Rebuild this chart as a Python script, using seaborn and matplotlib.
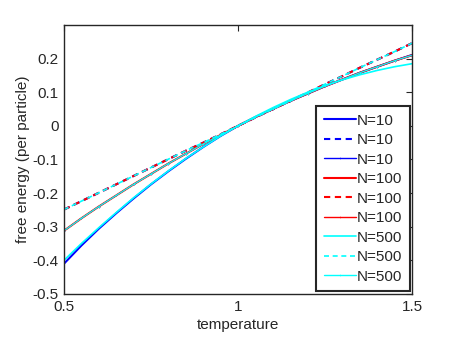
import numpy as np
import pandas as pd
import seaborn as sns
import matplotlib
matplotlib.use("Agg")
import matplotlib.pyplot as plt

# temperature grid
temperature = [0.50, 0.55, 0.60, 0.65, 0.70, 0.75, 0.80, 0.85, 0.90, 0.95, 1.00,
               1.05, 1.10, 1.15, 1.20, 1.25, 1.30, 1.35, 1.40, 1.45, 1.50]

# values
# lower solid curve
lower = [-0.400, -0.350, -0.303, -0.258, -0.214, -0.173, -0.134, -0.097, -0.063, -0.030, 0.000,
         0.028, 0.054, 0.078, 0.100, 0.120, 0.137, 0.152, 0.165, 0.176, 0.185]
lower_N10 = [-0.410, -0.356, -0.306, -0.260, -0.216, -0.174, -0.135, -0.098, -0.063, -0.030, 0.000,
             0.026, 0.050, 0.074, 0.096, 0.118, 0.138, 0.158, 0.176, 0.194, 0.211]
# middle solid curve
middle = [-0.312, -0.275, -0.240, -0.207, -0.174, -0.143, -0.112, -0.083, -0.054, -0.027, 0.000,
          0.026, 0.050, 0.074, 0.096, 0.118, 0.138, 0.158, 0.176, 0.194, 0.210]
# dashed (high temperature) curve
dashed = [-0.249, -0.224, -0.199, -0.174, -0.149, -0.124, -0.099, -0.074, -0.050, -0.025, 0.000,
          0.025, 0.050, 0.074, 0.099, 0.124, 0.148, 0.173, 0.197, 0.221, 0.246]

sns.set_style("white")
plt.rcParams['font.family'] = ['Liberation Sans', 'DejaVu Sans']
plt.rcParams['font.size'] = 11

fig = plt.figure(figsize=(4.57, 3.43), dpi=100)
ax = fig.add_axes([0.14, 0.143, 0.7615, 0.784])

# (label, colour, solid data, dashed data, dotted data, thick width, thin width)
series = [
    ("N=10", "#0000ff", lower_N10, dashed, middle, 1.5, 0.8),
    ("N=100", "#ff0000", middle, dashed, middle, 1.5, 0.8),
    ("N=500", "#00ffff", lower, dashed, middle, 1.2, 0.9),
]
for label, color, ex, ap, se, lw, thin in series:
    sns.lineplot(x=temperature, y=ex, ax=ax, color=color, lw=lw, label=label)
    sns.lineplot(x=temperature, y=ap, ax=ax, color=color, lw=lw, linestyle=(0, (3, 2.2)), label=label)
    sns.lineplot(x=temperature, y=se, ax=ax, color=color, lw=thin, marker='.', markersize=2.2,
                 markeredgewidth=0, markerfacecolor=color, label=label)

ax.set_xlim(0.5, 1.5)
ax.set_ylim(-0.5, 0.3)
ax.set_xticks([0.5, 1, 1.5])
ax.set_xticklabels(["0.5", "1", "1.5"])
ax.set_yticks([-0.5, -0.4, -0.3, -0.2, -0.1, 0, 0.1, 0.2])
ax.set_yticklabels(["-0.5", "-0.4", "-0.3", "-0.2", "-0.1", "0", "0.1", "0.2"])
ax.tick_params(direction='in', length=4, width=0.8, top=True, right=True, colors='#262626',
               labelcolor='#262626', labelsize=11, pad=4)
for s in ax.spines.values():
    s.set_color('#262626')
    s.set_linewidth(1.0)

ax.set_xlabel("temperature", color='#262626', fontsize=11, labelpad=3)
ax.set_ylabel("free energy (per particle)", color='#262626', fontsize=11, labelpad=2)

leg = ax.legend(loc='lower right', bbox_to_anchor=(0.995, 0.01), fontsize=11, handlelength=2.1,
                handletextpad=0.1, labelspacing=0.36, borderpad=0.5, borderaxespad=0.0,
                fancybox=False, framealpha=1, edgecolor='#262626')
leg.get_frame().set_linewidth(1.5)
# make the thin legend lines read clearly
for h in leg.get_lines()[2::3]:
    h.set_linewidth(1.0)

fig.savefig("out.png", dpi=100)
